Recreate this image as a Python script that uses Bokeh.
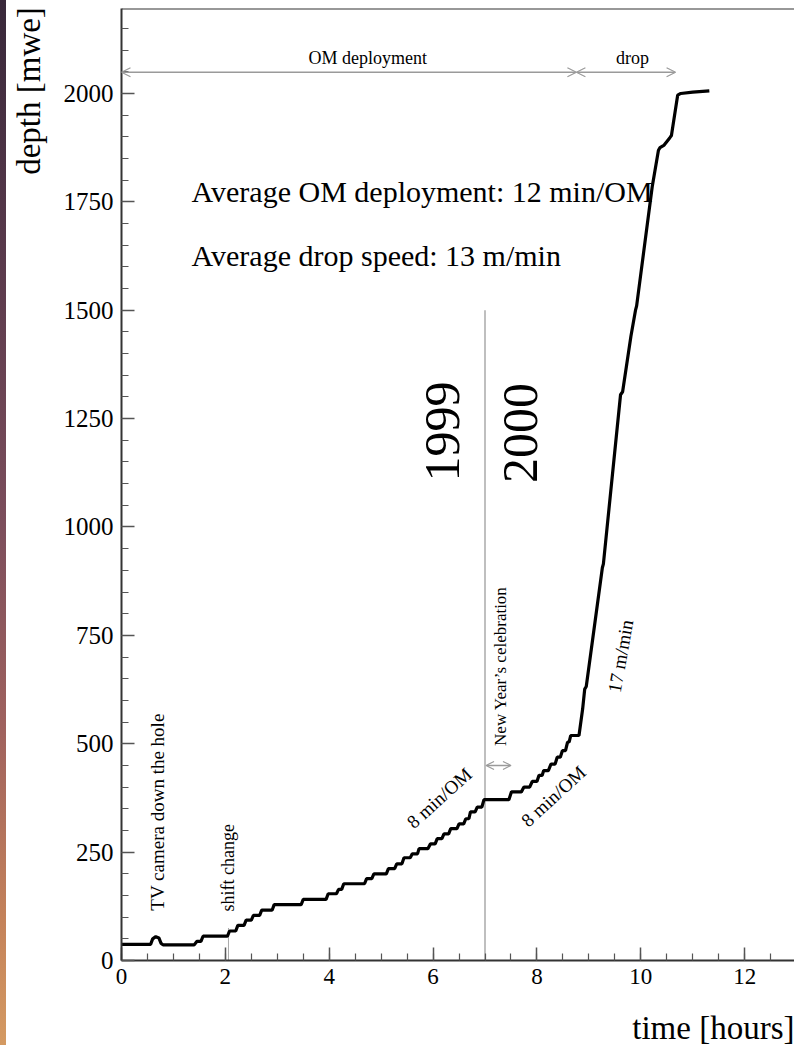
import math
from bokeh.plotting import figure
from bokeh.layouts import row
from bokeh.models import Range1d, FixedTicker, Label, Arrow, OpenHead, Span, Title, Div
from bokeh.embed import file_html
from bokeh.resources import INLINE

# ---------------- data ----------------
time_h = [0.00, 0.56, 0.60, 0.66, 0.72, 0.76, 0.80, 1.40, 1.45, 1.53, 1.57,
          2.04, 2.08, 2.20, 2.24, 2.36, 2.40, 2.50, 2.54, 2.66, 2.70, 2.90, 2.94,
          3.46, 3.50, 3.94, 3.98, 4.14, 4.18, 4.24, 4.28, 4.68, 4.72, 4.82, 4.86,
          5.10, 5.14, 5.26, 5.30, 5.40, 5.44, 5.56, 5.60, 5.70, 5.73, 5.90, 5.95,
          6.04, 6.08, 6.17, 6.21, 6.30, 6.34, 6.46, 6.50, 6.59, 6.63, 6.69, 6.72,
          6.81, 6.85, 6.94, 6.98, 7.46, 7.51, 7.70, 7.75, 7.86, 7.91, 8.00, 8.04,
          8.10, 8.13, 8.22, 8.27, 8.35, 8.39, 8.45, 8.49, 8.55, 8.59, 8.62, 8.65,
          8.81, 8.88, 8.92, 8.95, 9.26, 9.28, 9.61, 9.65, 9.81, 9.90, 9.92, 10.22,
          10.34, 10.37, 10.45, 10.56, 10.59, 10.71, 10.77, 11.00, 11.32]
depth_mwe = [37, 37, 50, 55, 52, 40, 36, 36, 44, 44, 56,
             56, 68, 68, 81, 81, 93, 93, 104, 104, 116, 116, 129,
             129, 141, 141, 154, 154, 164, 164, 177, 177, 189, 189, 200,
             200, 212, 212, 223, 223, 237, 237, 246, 246, 258, 258, 269,
             269, 281, 281, 292, 292, 304, 304, 315, 315, 327, 327, 343,
             343, 354, 354, 371, 371, 389, 389, 400, 400, 413, 413, 427,
             427, 438, 438, 453, 453, 469, 469, 484, 484, 504, 504, 519,
             519, 580, 626, 632, 906, 915, 1305, 1312, 1440, 1501, 1510, 1785,
             1869, 1875, 1881, 1898, 1903, 1996, 2000, 2003, 2006]

x_tick_labels = [0, 2, 4, 6, 8, 10, 12]
y_tick_labels = [0, 250, 500, 750, 1000, 1250, 1500, 1750, 2000]

midnight_hour = 7.0
midnight_line_top = 1500
deploy_end_hour = 8.76
drop_end_hour = 10.67
shift_change_hour = 2.06

FONT = "Liberation Serif"
GREY = "#9a9a9a"
Y_MAX = 2196

p = figure(width=788, height=1045,
           x_range=Range1d(0, 12.96), y_range=Range1d(0, Y_MAX),
           output_backend="svg", toolbar_location=None,
           min_border_left=115, min_border_right=0,
           min_border_top=8, min_border_bottom=83)
p.xgrid.visible = False
p.ygrid.visible = False
p.outline_line_color = None
p.background_fill_color = "white"
p.border_fill_color = "white"

p.xaxis.ticker = FixedTicker(ticks=x_tick_labels,
                             minor_ticks=[i * 0.5 for i in range(0, 27)])
p.yaxis.ticker = FixedTicker(ticks=y_tick_labels,
                             minor_ticks=[i * 50 for i in range(0, 44)])

for ax in (p.xaxis[0], p.yaxis[0]):
    ax.axis_line_color = "#333333"
    ax.axis_line_width = 2
    ax.major_tick_in = 13
    ax.major_tick_out = 0
    ax.minor_tick_in = 7
    ax.minor_tick_out = 0
    ax.major_tick_line_color = "#555555"
    ax.minor_tick_line_color = "#555555"
    ax.major_tick_line_width = 1.5
    ax.minor_tick_line_width = 1.2
    ax.major_label_text_font = FONT
    ax.major_label_text_color = "black"
p.xaxis.major_label_text_font_size = "23px"
p.yaxis.major_label_text_font_size = "25px"
p.xaxis.major_label_standoff = 8
p.yaxis.major_label_standoff = 8
# blank spacer below the x tick labels, so that the title sits lower
p.xaxis.axis_label = " "
p.xaxis.axis_label_standoff = 4
p.xaxis.axis_label_text_font_size = "12px"

# y axis title at the top of the axis (centred on the axis end, so padded
# with non-breaking spaces to keep the visible words below the top edge)
yax = p.yaxis[0]
yax.axis_label = "depth [mwe]" + "\u00a0" * 20
yax.axis_label_align = "end"
yax.axis_label_standoff = 14
yax.axis_label_text_font = FONT
yax.axis_label_text_font_size = "33px"
yax.axis_label_text_font_style = "normal"
yax.axis_label_text_color = "black"

p.add_layout(Title(text="time [hours]", align="right", text_font=FONT,
                   text_font_size="33px", text_font_style="normal",
                   text_color="black", standoff=0), "below")

# top border of the frame
p.add_layout(Span(location=Y_MAX, dimension="width", line_color="#333333", line_width=2))

# vertical line at midnight
p.segment(x0=[midnight_hour], y0=[0], x1=[midnight_hour], y1=[midnight_line_top],
          line_color="#aaaaaa", line_width=1.5)
# shift-change marker
p.segment(x0=[shift_change_hour], y0=[0], x1=[shift_change_hour], y1=[75],
          line_color="#aaaaaa", line_width=1)

# depth curve
p.line(time_h, depth_mwe, line_color="black", line_width=3.2)

# arrows on top
def arrow(x0, x1, y, size=9):
    p.add_layout(Arrow(start=OpenHead(size=size, line_color=GREY, line_width=1.2),
                       end=OpenHead(size=size, line_color=GREY, line_width=1.2),
                       x_start=x0, y_start=y, x_end=x1, y_end=y,
                       line_color=GREY, line_width=1.5))

arrow(0, deploy_end_hour, 2049)
arrow(deploy_end_hour, drop_end_hour, 2049)
arrow(7.02, 7.50, 450, size=8)

def label(x, y, text, size, angle=0.0, align="left", baseline="alphabetic"):
    p.add_layout(Label(x=x, y=y, text=text, text_font=FONT,
                       text_font_size=f"{size}px", angle=angle,
                       text_align=align, text_baseline=baseline,
                       text_color="black"))

label(4.74, 2081, "OM deployment", 18, align="center", baseline="middle")
label(9.84, 2081, "drop", 18, align="center", baseline="middle")
label(1.35, 1775, "Average OM deployment: 12 min/OM", 30)
label(1.35, 1627, "Average drop speed: 13 m/min", 30)
label(6.18, 1220, "1999", 50, angle=math.pi / 2, align="center", baseline="middle")
label(7.69, 1217, "2000", 50, angle=math.pi / 2, align="center", baseline="middle")
label(7.30, 495, "New Year’s celebration", 17, angle=math.pi / 2, baseline="middle")
label(0.69, 115, "TV camera down the hole", 19, angle=math.pi / 2, baseline="middle")
label(2.06, 113, "shift change", 18, angle=math.pi / 2, baseline="middle")
label(6.12, 375, "8 min/OM", 19, angle=math.radians(42), align="center", baseline="middle")
label(8.32, 379, "8 min/OM", 19, angle=math.radians(42.6), align="center", baseline="middle")
label(9.61, 702, "17 m/min", 19, angle=math.radians(80), align="center", baseline="middle")

# slide-background strip on the left edge
strip = Div(text="", width=6, height=1045, margin=0,
            styles={"background": "linear-gradient(to bottom, #38283a 0%, #5a3a4c 25%, "
                                  "#7c4e5c 50%, #a0625e 70%, #c4825a 88%, #d49a62 100%)"})

layout = row(strip, p, spacing=0)
open("out.html", "w").write(file_html(layout, INLINE))
